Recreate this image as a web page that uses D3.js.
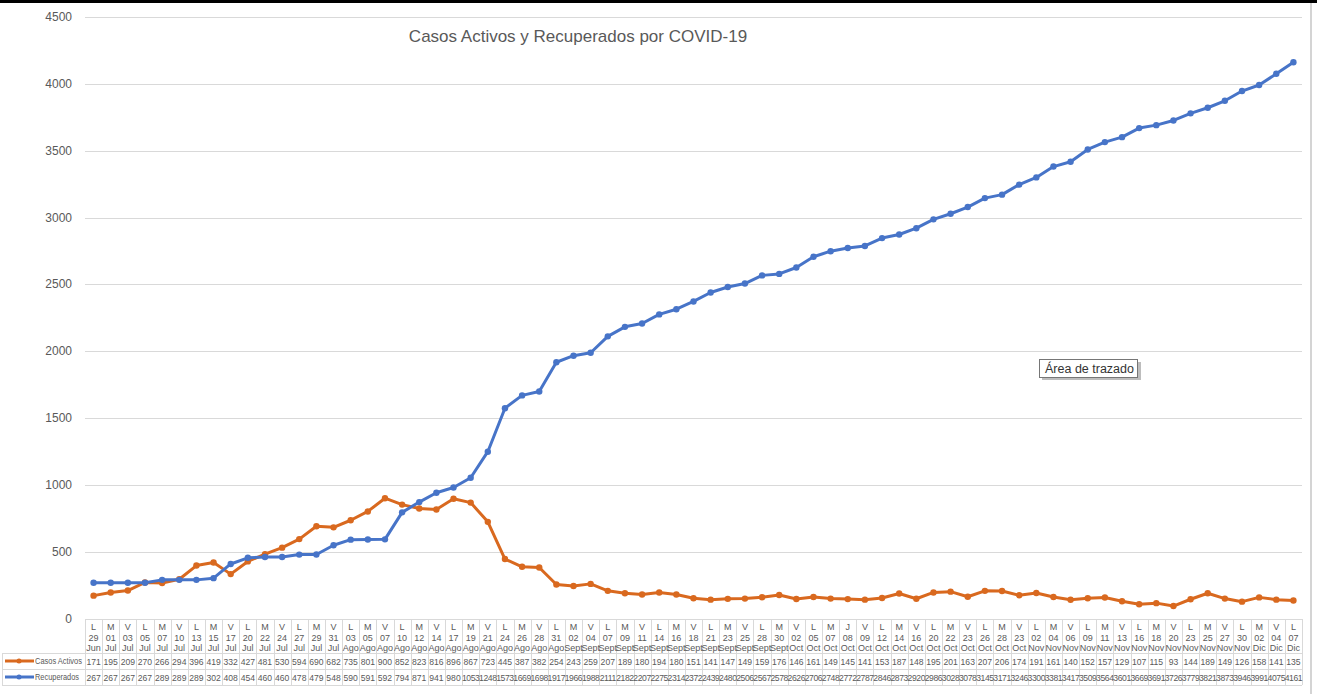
<!DOCTYPE html>
<html>
<head>
<meta charset="utf-8">
<script src="https://cdn.jsdelivr.net/npm/d3@7"></script>
<style>
  body { margin: 0; background: #fff; }
  svg { display: block; font-family: "Liberation Sans", Arial, sans-serif; }
</style>
</head>
<body>
<svg width="1317" height="694"></svg>
<script>
// categories as shown in the data table (dia, numero, mes)
var fechas = [
  "L 29 Jun","M 01 Jul","V 03 Jul","L 05 Jul","M 07 Jul","V 10 Jul","L 13 Jul","M 15 Jul","V 17 Jul",
  "L 20 Jul","M 22 Jul","V 24 Jul","L 27 Jul","M 29 Jul","V 31 Jul","L 03 Ago","M 05 Ago","V 07 Ago",
  "L 10 Ago","M 12 Ago","V 14 Ago","L 17 Ago","M 19 Ago","V 21 Ago","L 24 Ago","M 26 Ago","V 28 Ago",
  "L 31 Ago","M 02 Sept","V 04 Sept","L 07 Sept","M 09 Sept","V 11 Sept","L 14 Sept","M 16 Sept",
  "V 18 Sept","L 21 Sept","M 23 Sept","V 25 Sept","L 28 Sept","M 30 Sept","V 02 Oct","L 05 Oct",
  "M 07 Oct","J 08 Oct","V 09 Oct","L 12 Oct","M 14 Oct","V 16 Oct","L 20 Oct","M 22 Oct","V 23 Oct",
  "L 26 Oct","M 28 Oct","V 23 Oct","L 02 Nov","M 04 Nov","V 06 Nov","L 09 Nov","M 11 Nov","V 13 Nov",
  "L 16 Nov","M 18 Nov","V 20 Nov","L 23 Nov","M 25 Nov","V 27 Nov","L 30 Nov","M 02 Dic","V 04 Dic",
  "L 07 Dic"
];

var casosActivos = [
  171,195,209,270,266,294,396,419,332,427,481,530,594,690,682,735,801,900,852,823,816,896,867,723,
  445,387,382,254,243,259,207,189,180,194,180,151,141,147,149,159,176,146,161,149,145,141,153,187,
  148,195,201,163,207,206,174,191,161,140,152,157,129,107,115,93,144,189,149,126,158,141,135
];

var recuperados = [
  267,267,267,267,289,289,289,302,408,454,460,460,478,479,548,590,591,592,794,871,941,980,1053,1248,
  1573,1669,1698,1917,1966,1988,2111,2182,2207,2275,2314,2372,2439,2480,2506,2567,2578,2626,2706,
  2748,2772,2787,2846,2873,2920,2986,3028,3078,3145,3171,3246,3300,3381,3417,3509,3564,3601,3669,
  3691,3726,3779,3821,3873,3946,3991,4075,4161
];

var yTicks = [0,500,1000,1500,2000,2500,3000,3500,4000,4500];

var series = [
  { name: "Casos Activos", values: casosActivos, color: "#D9691F" },
  { name: "Recuperados", values: recuperados, color: "#4774C8" }
];

var svg = d3.select("svg");
var gray = "#595959";

// top dark strip and right border of the screenshot
svg.append("rect").attr("x", 0).attr("y", 0).attr("width", 1317).attr("height", 3).attr("fill", "#000");
svg.append("line").attr("x1", 1311).attr("x2", 1311).attr("y1", 3).attr("y2", 694)
  .attr("stroke", "#d4d4d4").attr("stroke-width", 2);

var x = d3.scaleBand().domain(d3.range(fechas.length)).range([85, 1302]).padding(0);
var y = d3.scaleLinear().domain([0, 4500]).range([618.5, 17]);

// gridlines + y labels
svg.append("g").selectAll("line").data(yTicks).enter().append("line")
  .attr("x1", 85).attr("x2", 1302)
  .attr("y1", d => Math.round(y(d)) + 0.5).attr("y2", d => Math.round(y(d)) + 0.5)
  .attr("stroke", "#d9d9d9").attr("stroke-width", 1);

svg.append("g").selectAll("text").data(yTicks).enter().append("text")
  .attr("x", 72).attr("y", d => y(d) + 4)
  .attr("text-anchor", "end").attr("font-size", 12).attr("fill", gray)
  .text(d => d);

// title
svg.append("text").attr("x", 578).attr("y", 42).attr("text-anchor", "middle")
  .attr("font-size", 17).attr("fill", gray)
  .text("Casos Activos y Recuperados por COVID-19");

// lines
var cx = i => x(i) + x.bandwidth() / 2;
var line = d3.line().x((d, i) => cx(i)).y(d => y(d));

series.forEach(function (s) {
  var g = svg.append("g");
  g.append("path").datum(s.values)
    .attr("d", line).attr("fill", "none")
    .attr("stroke", s.color).attr("stroke-width", 3).attr("stroke-linejoin", "round");
  g.selectAll("circle").data(s.values).enter().append("circle")
    .attr("cx", (d, i) => cx(i)).attr("cy", d => y(d)).attr("r", 3.2)
    .attr("fill", s.color);
});

// data table
var tTop = 619, hRow = 653, r1 = 669, r2 = 685, tRight = 1302;
var tbl = svg.append("g").attr("stroke", "#d9d9d9").attr("stroke-width", 1);
tbl.append("line").attr("x1", 85).attr("x2", tRight).attr("y1", tTop + 0.5).attr("y2", tTop + 0.5);
[hRow, r1, r2].forEach(function (yy) {
  tbl.append("line").attr("x1", 2).attr("x2", tRight).attr("y1", yy + 0.5).attr("y2", yy + 0.5);
});
tbl.append("line").attr("x1", 2.5).attr("x2", 2.5).attr("y1", hRow).attr("y2", r2);
tbl.selectAll("line.col").data(d3.range(fechas.length + 1)).enter().append("line")
  .attr("class", "col")
  .attr("x1", i => Math.round(i < fechas.length ? x(i) : tRight) + 0.5)
  .attr("x2", i => Math.round(i < fechas.length ? x(i) : tRight) + 0.5)
  .attr("y1", tTop).attr("y2", r2);

// header labels (3 lines)
var hdr = svg.append("g").attr("font-size", 9).attr("fill", gray).attr("text-anchor", "middle");
fechas.forEach(function (f, i) {
  var parts = f.split(" ");
  parts.forEach(function (p, k) {
    hdr.append("text").attr("x", cx(i)).attr("y", 630 + k * 10.5).text(p);
  });
});

// value rows
series.forEach(function (s, j) {
  var yy = (j === 0 ? hRow : r1) + 11.5;
  svg.append("g").selectAll("text").data(s.values).enter().append("text")
    .attr("x", (d, i) => cx(i)).attr("y", yy)
    .attr("text-anchor", "middle").attr("font-size", 8.6).attr("fill", gray)
    .attr("letter-spacing", d => d >= 1000 ? -0.4 : 0)
    .text(d => d);

  // legend key
  var ly = (j === 0 ? hRow : r1) + 8;
  svg.append("line").attr("x1", 5).attr("x2", 34).attr("y1", ly).attr("y2", ly)
    .attr("stroke", s.color).attr("stroke-width", 3);
  svg.append("circle").attr("cx", 19).attr("cy", ly).attr("r", 2.5).attr("fill", s.color);
  svg.append("text").attr("x", 35).attr("y", ly + 3).attr("font-size", 8.6).attr("fill", gray)
    .attr("textLength", j === 0 ? 47 : 44).attr("lengthAdjust", "spacingAndGlyphs")
    .text(s.name);
});

// hover tooltip seen in the screenshot
var tip = svg.append("g").attr("transform", "translate(1039,359)");
tip.append("rect").attr("x", 3).attr("y", 3).attr("width", 99).attr("height", 18).attr("fill", "#bdbdbd");
tip.append("rect").attr("x", 0.5).attr("y", 0.5).attr("width", 98).attr("height", 18)
  .attr("fill", "#fff").attr("stroke", "#767676");
tip.append("text").attr("x", 6).attr("y", 14).attr("font-size", 12.5).attr("fill", "#333")
  .text("Área de trazado");
</script>
</body>
</html>
